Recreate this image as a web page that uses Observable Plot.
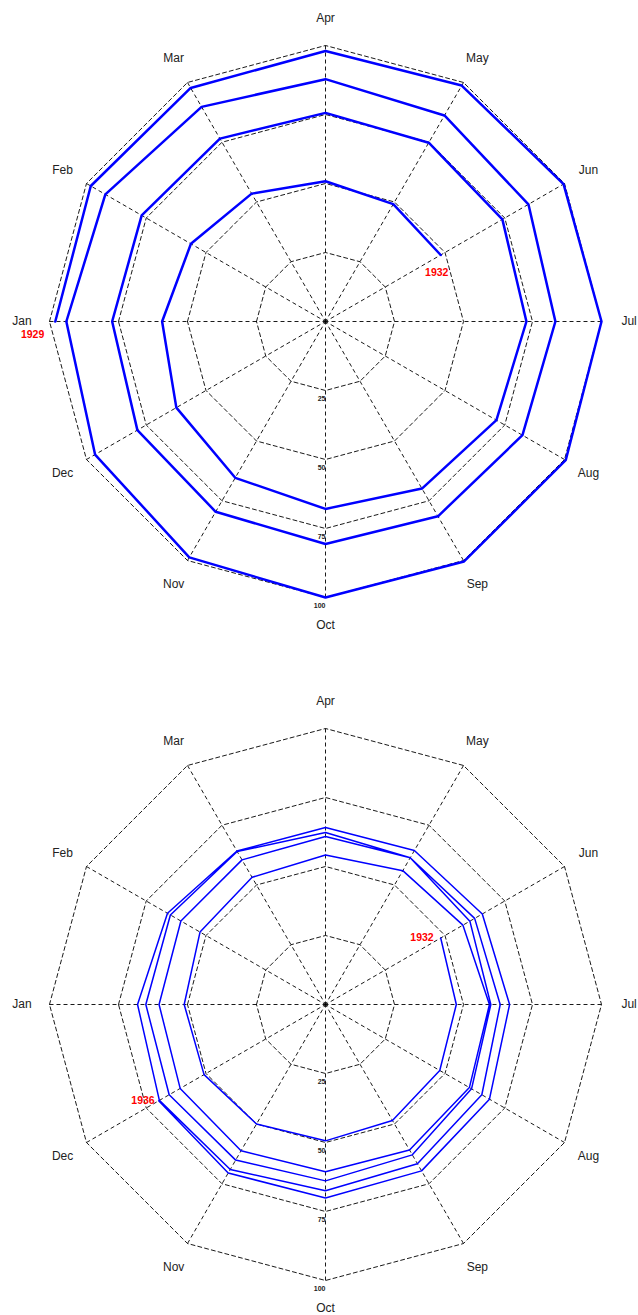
<!DOCTYPE html>
<html><head><meta charset="utf-8">
<script src="https://cdn.jsdelivr.net/npm/d3@7"></script>
<script src="https://cdn.jsdelivr.net/npm/@observablehq/plot@0.6"></script>
<style>
html,body{margin:0;padding:0;background:#fff;}
#chart{width:638px;}
#chart svg{display:block;}
</style></head><body><div id="chart"></div>
<script>
const months = ["Jan","Feb","Mar","Apr","May","Jun","Jul","Aug","Sep","Oct","Nov","Dec"];
const rings = [25, 50, 75, 100];
const ringLabels = ["25", "50", "75", "100"];

// Panel 1: Jan 1929 – Jun 1932
const v1929 = [97.9, 98.2, 97.7, 98.0, 98.7, 99.6, 100.0, 100.5, 100.4, 100.0, 98.7, 96.4];
const v1930 = [93.9, 92.1, 89.8, 87.8, 86.2, 84.9, 83.3, 82.4, 81.5, 80.6, 79.6, 78.7];
const v1931 = [77.3, 76.9, 76.5, 75.6, 74.8, 74.0, 72.8, 71.5, 69.9, 67.9, 65.4, 62.4];
const v1932a = [59.2, 56.3, 53.5, 50.8, 49.1, 48.2]; // Jan–Jun

// Panel 2: Jun 1932 – Dec 1936
const v1932b = [48.2, 47.4, 47.8, 48.5, 49.4, 50.0, 50.8]; // Jun–Dec
const v1933 = [51.2, 52.5, 53.2, 54.2, 56.0, 57.5, 59.4, 60.2, 60.9, 60.6, 61.2, 60.8];
const v1934 = [60.3, 60.5, 60.5, 60.9, 61.4, 60.4, 59.9, 61.1, 62.9, 63.9, 65.1, 65.4];
const v1935 = [65.1, 64.9, 64.0, 62.3, 61.4, 62.4, 63.3, 65.4, 66.6, 67.5, 69.0, 69.5];
const v1936 = [68.1, 66.1, 64.2, 64.1, 64.4, 65.6, 66.7, 68.6, 69.6, 70.1, 70.5, 69.8];

const panel1 = [
  {year: 1929, start: 0, values: v1929},
  {year: 1930, start: 0, values: v1930},
  {year: 1931, start: 0, values: v1931},
  {year: 1932, start: 0, values: v1932a}
];
const panel2 = [
  {year: 1932, start: 5, values: v1932b},
  {year: 1933, start: 0, values: v1933},
  {year: 1934, start: 0, values: v1934},
  {year: 1935, start: 0, values: v1935},
  {year: 1936, start: 0, values: v1936}
];

const theta = m => Math.PI - m * Math.PI / 6;
const px = d => d.r * Math.cos(theta(d.m));
const py = d => d.r * Math.sin(theta(d.m));

function flatten(panel) {
  return panel.flatMap(s => s.values.map((r, k) => ({year: s.year, m: s.start + k, r})));
}

const ringPts = rings.flatMap(r => d3.range(13).map(k => ({r, m: k % 12})));
const spokes = months.map((name, m) => ({m, r: 100}));
const monthPts = months.map((name, m) => ({name, m, r: 110}));
const tickPts = rings.map((r, i) => ({r, label: ringLabels[i]}));

function gridMarks() {
  return [
    Plot.line(ringPts, {x: px, y: py, z: "r", stroke: "#000", strokeWidth: 0.9, strokeDasharray: "4,3"}),
    Plot.link(spokes, {x1: px, y1: py, x2: () => 0, y2: () => 0, stroke: "#000", strokeWidth: 0.9, strokeDasharray: "4,3"}),
    Plot.text(monthPts, {x: px, y: py, text: "name", fontSize: 12, fill: "#222"}),
    Plot.text(tickPts, {x: () => 0, y: d => -d.r, text: "label", dy: 8, textAnchor: "end", fontSize: 7, fontWeight: "bold", fill: "#222"})
  ];
}

function makePlot(height, marks) {
  return Plot.plot({
    width: 638,
    height,
    margin: 0,
    x: {domain: [-100, 100], range: [49, 601], axis: null},
    y: {domain: [-100, 100], range: [597, 45], axis: null},
    style: {fontFamily: "'Liberation Sans', Arial, Helvetica, sans-serif", background: "#fff", overflow: "visible"},
    marks
  });
}

const pts1 = flatten(panel1);
const pts2 = flatten(panel2);

const plot1 = makePlot(683, [
  ...gridMarks(),
  Plot.line(pts1, {x: px, y: py, stroke: "#0000ff", strokeWidth: 2.5}),
  Plot.text([pts1[0]], {x: px, y: py, text: d => String(d.year), dx: -11, dy: 13, textAnchor: "end", fill: "#ff0000", fontWeight: "bold", fontSize: 10.5}),
  Plot.text([pts1[pts1.length - 1]], {x: px, y: py, text: d => String(d.year), dx: -4, dy: 18, textAnchor: "middle", fill: "#ff0000", fontWeight: "bold", fontSize: 10.5})
]);

const plot2 = makePlot(632, [
  ...gridMarks(),
  Plot.line(pts2, {x: px, y: py, stroke: "#0000ff", strokeWidth: 1.5}),
  Plot.text([pts2[0]], {x: px, y: py, text: d => String(d.year), dx: -7, dy: 0, textAnchor: "end", fill: "#ff0000", fontWeight: "bold", fontSize: 10.5}),
  Plot.text([pts2[pts2.length - 1]], {x: px, y: py, text: d => String(d.year), dx: -4, dy: 0, textAnchor: "end", fill: "#ff0000", fontWeight: "bold", fontSize: 10.5})
]);

document.getElementById("chart").append(plot1, plot2);
</script>
</body></html>
